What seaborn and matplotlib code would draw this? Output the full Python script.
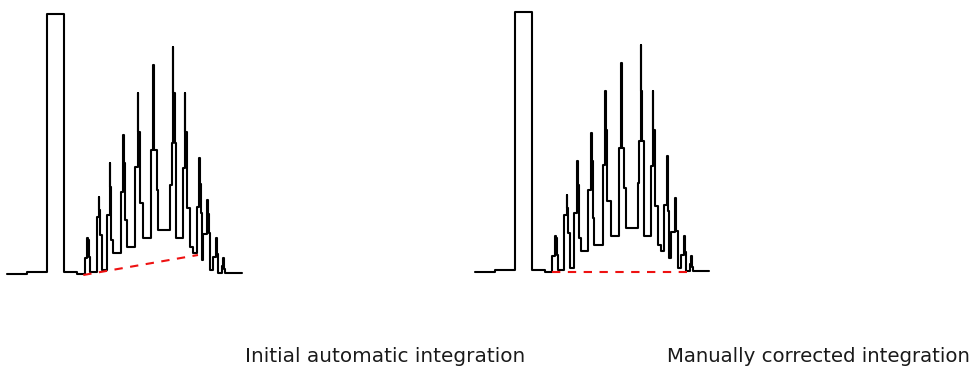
import matplotlib
matplotlib.use("Agg")
import matplotlib.pyplot as plt
import seaborn as sns

# detector trace as step breakpoints (position, signal); same run shown twice
rt = [7.0, 27.0, 47.0, 64.0, 77.0,
      84.7, 87.3, 87.9, 88.9, 90.3,          # oligomer 1
      96.7, 99.0, 99.5, 100.5, 102.0,        # 2
      106.7, 109.7, 110.2, 111.4, 113.3,     # 3
      120.7, 123.3, 123.8, 125.0, 126.7,     # 4
      135.0, 137.7, 138.2, 139.6, 143.3,     # 5
      151.0, 153.0, 154.2, 156.7, 158.3,     # 6
      170.0, 171.7, 173.0, 173.5, 174.6, 176.0,  # 7
      183.3, 185.0, 185.5, 186.8, 190.0, 193.3,  # 8
      196.7, 199.3, 199.8, 200.7, 201.7,     # 9
      203.3, 207.3, 207.8, 208.7, 210.0,     # 10
      213.3, 216.3, 217.0, 217.8,            # 11
      222.3, 223.5, 224.3, 225.3,            # 12
      241.7]
signal = [0, 2, 260, 2, 0,
          16, 36, 34, 17, 2,
          57, 77, 64, 39, 4,
          59, 111, 87, 34, 21,
          82, 139, 111, 54, 27,
          107, 181, 142, 71, 36,
          124, 209, 124, 84, 44,
          89, 131, 227, 181, 131, 36,
          106, 181, 142, 66, 27, 21,
          67, 116, 90, 61, 14,
          40, 74, 60, 41, 4,
          17, 36, 20, 1,
          8, 16, 5, 1,
          1]

# integration baselines
auto_base_rt = [83.3, 198.0]
auto_base_signal = [-1, 19]
manual_base_rt = [84.0, 219.0]
manual_base_signal = [0, 0]

titles = ["Initial automatic integration", "Manually corrected integration"]

sns.set_style("white")
W, H = 974, 367
fig = plt.figure(figsize=(W / 100, H / 100), dpi=100)

panels = [
    (0.0, (-93, 274), auto_base_rt, auto_base_signal),
    (467.7, (-95, 272), manual_base_rt, manual_base_signal),
]
for x0, ylim, brt, bsig in panels:
    ax = fig.add_axes([x0 / W, 0, 250 / W, 1])
    sns.lineplot(x=rt, y=signal, ax=ax, sort=False, estimator=None,
                 drawstyle="steps-post", color="black", lw=1.5)
    sns.lineplot(x=brt, y=bsig, ax=ax, sort=False, estimator=None,
                 color="#ee1111", lw=1.5, ls=(0, (4.0, 3.6)), zorder=3)
    ax.set_xlim(0, 250)
    ax.set_ylim(*ylim)
    ax.axis("off")

fig.text(245 / W, 5.5 / H, titles[0], fontsize=14.4, color="#1a1a1a", va="baseline")
fig.text(667 / W, 5.5 / H, titles[1], fontsize=14.2, color="#1a1a1a", va="baseline")

fig.savefig("out.png", dpi=100)
